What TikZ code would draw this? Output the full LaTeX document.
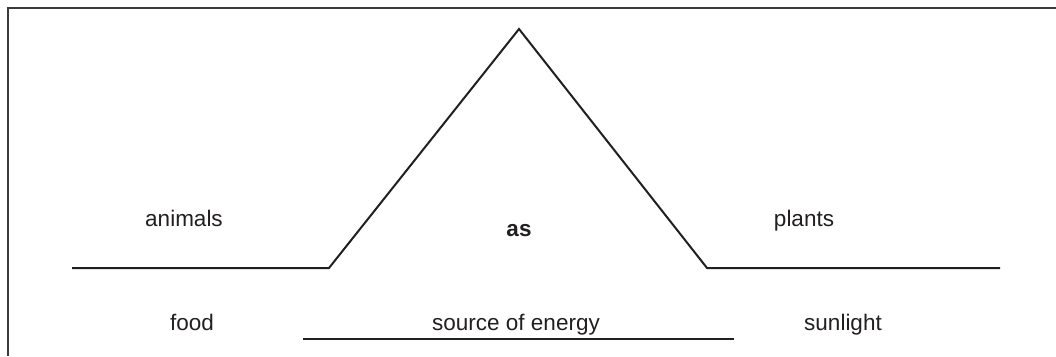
\documentclass[tikz,border=0pt]{standalone}
\usepackage{fontspec}
\setmainfont{Liberation Sans}
\definecolor{ink}{HTML}{231F20}
\definecolor{frame}{HTML}{3A3A3A}
\begin{document}
\begin{tikzpicture}[x=1pt,y=-1pt,
  lbl/.style={font=\fontsize{22.5}{26}\selectfont, text=ink, inner sep=0pt, anchor=base},
  ln/.style={draw=ink, line width=2pt, line join=miter}]
\useasboundingbox (0,0) rectangle (1056,356);
\fill[white] (0,0) rectangle (1056,356);
\draw[draw=frame, line width=2pt] (1056,8) -- (8,8) -- (8,356);
\coordinate (a) at (72,268);
\coordinate (b) at (329,268);
\coordinate (c) at (519,29);
\coordinate (d) at (707,268);
\coordinate (e) at (1000,268);
\draw[ln] (a) -- (b) -- (c) -- (d) -- (e);
\coordinate (f) at (303,339);
\coordinate (g) at (734,339);
\draw[ln] (f) -- (g);
\node[lbl] (animals) at (184,226) {animals};
\node[lbl, font=\fontsize{22.5}{26}\selectfont\bfseries] (as) at (519,236) {as};
\node[lbl] (plants) at (804,226) {plants};
\node[lbl] (food) at (192,330) {food};
\node[lbl] (source) at (516,330) {source of energy};
\node[lbl] (sunlight) at (843,330) {sunlight};
\end{tikzpicture}
\end{document}
